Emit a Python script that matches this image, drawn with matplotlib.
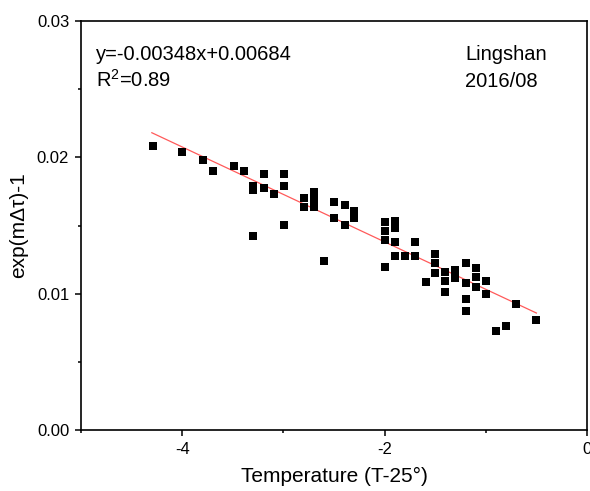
import matplotlib
matplotlib.use('agg')
import matplotlib.pyplot as plt
from matplotlib.ticker import MultipleLocator, FormatStrFormatter
import numpy as np

plt.rcParams['font.family'] = ['Liberation Sans', 'DejaVu Sans']
plt.rcParams['mathtext.fontset'] = 'custom'
plt.rcParams['mathtext.rm'] = 'Liberation Sans'
plt.rcParams['mathtext.it'] = 'Liberation Sans'

# temperature anomaly (T-25) and exp(m*dtau)-1
temp = [-4.29, -4.00, -3.79, -3.70, -3.49, -3.39, -3.30, -3.30, -3.19, -3.19,
        -3.09, -2.99, -2.99, -2.99, -3.30, -2.80, -2.80, -2.70, -2.70, -2.70,
        -2.50, -2.50, -2.39, -2.39, -2.30, -2.30, -2.60, -2.00, -2.00, -2.00,
        -1.90, -1.90, -1.90, -1.90, -1.80, -1.70, -1.70, -2.00, -1.59, -1.50,
        -1.50, -1.50, -1.40, -1.40, -1.40, -1.30, -1.30, -1.20, -1.20, -1.20,
        -1.20, -1.10, -1.10, -1.10, -1.00, -1.00, -0.70, -0.50, -0.90, -0.80]
expval = [0.02081, 0.02039, 0.01978, 0.01897, 0.01934, 0.01899, 0.01787, 0.01757, 0.01877, 0.01774,
          0.01728, 0.01875, 0.01792, 0.01505, 0.01421, 0.01701, 0.01635, 0.01745, 0.01691, 0.01635,
          0.01671, 0.01554, 0.01654, 0.01507, 0.01610, 0.01557, 0.01243, 0.01524, 0.01463, 0.01395,
          0.01532, 0.01483, 0.01380, 0.01279, 0.01279, 0.01382, 0.01274, 0.01193, 0.01083, 0.01292,
          0.01223, 0.01152, 0.01157, 0.01090, 0.01012, 0.01174, 0.01113, 0.01223, 0.01076, 0.00963,
          0.00875, 0.01186, 0.01120, 0.01051, 0.01096, 0.00998, 0.00924, 0.00809, 0.00726, 0.00763]

# fitted line
slope = -0.00348
intercept = 0.00684
fit_x = np.array([-4.3, -0.5])

W, H = 590, 491
fig = plt.figure(figsize=(W / 100, H / 100), dpi=100)
ax = fig.add_axes([81 / W, 1 - 430 / H, (587 - 81) / W, (430 - 21) / H])

ax.plot(fit_x, slope * fit_x + intercept, color='#ff5a5a', lw=0.9, zorder=2)
ax.plot(temp, expval, 's', color='black', markersize=6.4, markeredgewidth=0, zorder=3)

ax.set_xlim(-5, 0)
ax.set_ylim(0, 0.03)
ax.xaxis.set_major_locator(MultipleLocator(2))
ax.xaxis.set_minor_locator(MultipleLocator(1))
ax.xaxis.set_major_formatter(FormatStrFormatter('%d'))
ax.yaxis.set_major_locator(MultipleLocator(0.01))
ax.yaxis.set_minor_locator(MultipleLocator(0.005))
ax.yaxis.set_major_formatter(FormatStrFormatter('%.2f'))
ax.tick_params(which='both', direction='out', top=False, right=False, labelsize=12, width=1.1)
ax.tick_params(which='major', length=4.5, pad=4)
ax.tick_params(which='minor', length=2.5)
for s in ax.spines.values():
    s.set_linewidth(1.2)

ax.set_xlabel('Temperature (T-25°)', fontsize=15, labelpad=7)
ax.set_ylabel('exp(m\u0394\u03c4)-1', fontsize=15, labelpad=6)


def put(x, y, s):
    fig.text(x / W, 1 - y / H, s, fontsize=14.5, va='baseline', ha='left')


put(96, 60, 'y=-0.00348x+0.00684')
put(96, 87, 'R$^2$=0.89')
put(465, 60, 'Lingshan')
put(465, 87, '2016/08')

plt.savefig('out.png', dpi=100)
